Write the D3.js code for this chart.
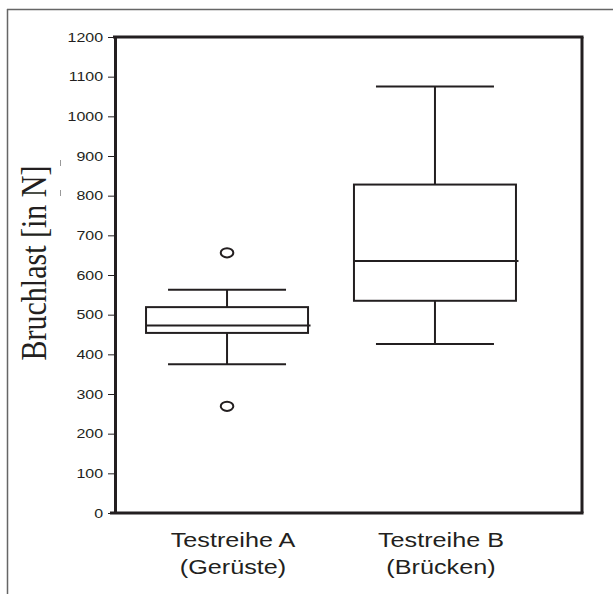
<!DOCTYPE html>
<html>
<head>
<meta charset="utf-8">
<script src="https://cdn.jsdelivr.net/npm/d3@7"></script>
<style>
  html, body { margin: 0; padding: 0; background: #fff; }
  svg { display: block; }
</style>
</head>
<body>
<svg id="chart" width="613" height="594"></svg>
<script>
// ---- data ----
const categories = ["A", "B"];
const labelLine1 = ["Testreihe A", "Testreihe B"];
const labelLine2 = ["(Gerüste)", "(Brücken)"];
const whiskerLow = [375, 426];
const q1 = [454, 535];
const median = [473, 635];
const q3 = [519, 828];
const whiskerHigh = [563, 1075];
const outliers = [[656, 269], []];
const yTicks = [0, 100, 200, 300, 400, 500, 600, 700, 800, 900, 1000, 1100, 1200];
const yLabel = "Bruchlast [in N]";

const ink = "#231f20";
const sx = 1.2; // horizontal stretch of the original picture

const svg = d3.select("#chart");

// outer frame (top + left only)
svg.append("line").attr("x1", 7).attr("x2", 613).attr("y1", 9.5).attr("y2", 9.5)
  .attr("stroke", "#666").attr("stroke-width", 1.5);
svg.append("line").attr("x1", 7.5).attr("x2", 7.5).attr("y1", 9).attr("y2", 594)
  .attr("stroke", "#666").attr("stroke-width", 1.5);

const y = d3.scaleLinear().domain([0, 1200]).range([513, 37]);
const x = d3.scalePoint().domain(categories).range([116, 546]).padding(0.534);

const plotL = 115, plotR = 582;

// plot frame
svg.append("line").attr("x1", plotL - 2).attr("x2", plotR + 1.5).attr("y1", y(1200)).attr("y2", y(1200))
  .attr("stroke", ink).attr("stroke-width", 3);
svg.append("line").attr("x1", plotR).attr("x2", plotR).attr("y1", y(1200)).attr("y2", y(0))
  .attr("stroke", ink).attr("stroke-width", 3);
svg.append("line").attr("x1", 110).attr("x2", plotR + 1.5).attr("y1", y(0)).attr("y2", y(0))
  .attr("stroke", ink).attr("stroke-width", 3);

// y axis
const tickSize = 7, tickPad = 5;
const yAxis = d3.axisLeft(y).tickValues(yTicks).tickSize(tickSize).tickSizeOuter(0).tickPadding(tickPad)
  .tickFormat(d3.format("d"));
const gy = svg.append("g").attr("transform", `translate(${plotL},0)`).call(yAxis);
gy.select(".domain").attr("stroke", ink).attr("stroke-width", 3);
gy.selectAll(".tick line").attr("stroke", ink).attr("stroke-width", 1);
gy.selectAll(".tick text")
  .attr("fill", ink)
  .attr("font-family", "'Liberation Sans', Arial, sans-serif")
  .attr("font-size", 13.3)
  .attr("x", -(tickSize + tickPad) / sx)
  .attr("transform", `scale(${sx},1)`);

// y label
svg.append("text")
  .attr("transform", `translate(46,263) rotate(-90) scale(1,${sx})`)
  .attr("text-anchor", "middle")
  .attr("font-family", "'Liberation Serif', 'Times New Roman', serif")
  .attr("font-size", 30)
  .attr("fill", ink)
  .text(yLabel);
// small artefact marks next to the label
[163, 193].forEach(v => {
  svg.append("line").attr("x1", 60.5).attr("x2", 60.5).attr("y1", v - 3).attr("y2", v + 3)
    .attr("stroke", "#999").attr("stroke-width", 1);
});

// boxes
const boxHalf = 81, capHalf = 59;
categories.forEach((c, i) => {
  const cx = x(c);
  const g = svg.append("g").attr("stroke", ink).attr("stroke-width", 2).attr("fill", "none");
  // whiskers
  g.append("line").attr("x1", cx).attr("x2", cx).attr("y1", y(q3[i])).attr("y2", y(whiskerHigh[i]));
  g.append("line").attr("x1", cx).attr("x2", cx).attr("y1", y(q1[i])).attr("y2", y(whiskerLow[i]));
  g.append("line").attr("x1", cx - capHalf).attr("x2", cx + capHalf).attr("y1", y(whiskerHigh[i])).attr("y2", y(whiskerHigh[i]));
  g.append("line").attr("x1", cx - capHalf).attr("x2", cx + capHalf).attr("y1", y(whiskerLow[i])).attr("y2", y(whiskerLow[i]));
  // box
  g.append("rect").attr("x", cx - boxHalf).attr("width", 2 * boxHalf)
    .attr("y", y(q3[i])).attr("height", y(q1[i]) - y(q3[i]));
  // median
  g.append("line").attr("x1", cx - boxHalf).attr("x2", cx + boxHalf + 2.5).attr("y1", y(median[i])).attr("y2", y(median[i]));
  // outliers
  outliers[i].forEach(v => {
    g.append("ellipse").attr("cx", cx).attr("cy", y(v)).attr("rx", 6.3).attr("ry", 4.6).attr("fill", "#fff");
  });
  // category labels
  [labelLine1[i], labelLine2[i]].forEach((t, k) => {
    svg.append("text")
      .attr("transform", `translate(${cx + 6},${k === 0 ? 547 : 574}) scale(${sx},1)`)
      .attr("text-anchor", "middle")
      .attr("font-family", "'Liberation Sans', Arial, sans-serif")
      .attr("font-size", 21)
      .attr("fill", ink)
      .text(t);
  });
});
</script>
</body>
</html>
